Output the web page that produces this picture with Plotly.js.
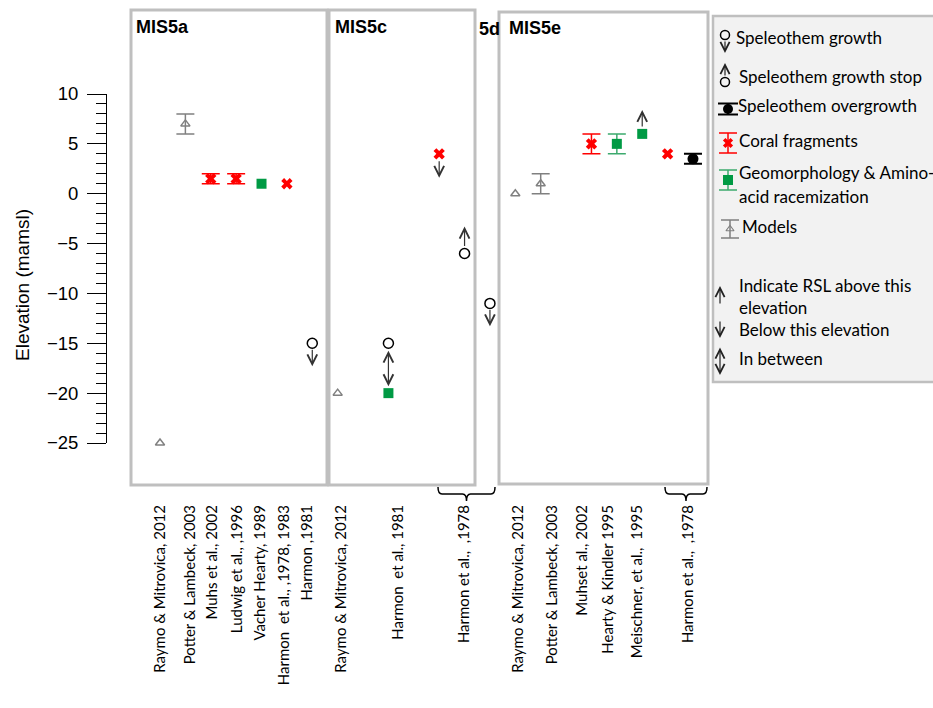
<!DOCTYPE html>
<html>
<head>
<meta charset="utf-8">
<script src="https://cdn.plot.ly/plotly-3.0.1.min.js"></script>
<style>html,body{margin:0;padding:0;background:#fff;}#chart{width:933px;height:708px;}</style>
</head>
<body>
<div id="chart"></div>
<script>
// ---------- DATA ----------
// Category (reference) labels along the bottom
const tickLabels = [
  "Raymo & Mitrovica, 2012", "Potter & Lambeck, 2003", "Muhs et al., 2002",
  "Ludwig et al., ,1996", "Vacher Hearty, 1989", "Harmon  et al., ,1978, 1983",
  "Harmon ,1981", "Raymo & Mitrovica, 2012", "Harmon  et al., 1981",
  "Harmon et al.,  ,1978", "Raymo & Mitrovica, 2012", "Potter & Lambeck, 2003",
  "Muhset al., 2002", "Hearty & Kindler 1995", "Meischner, et al.,  1995",
  "Harmon et al.,  ,1978"
];
// category slot where each label sits
const labelSlot = [0, 1.2, 2.05, 3.05, 3.95, 4.9, 5.8, 7.15, 9.4, 12.0, 14.1, 15.45, 16.65, 17.65, 18.8, 20.8];

// Models
const modelsSlot = [0, 1, 7, 14, 15];
const modelsElev = [-25, 7, -20, 0, 1];
const modelsErr  = [0, 1, 0, 0, 1];
// Coral fragments
const coralSlot = [2, 3, 5, 11, 17, 20];
const coralElev = [1.5, 1.5, 1, 4, 5, 4];
const coralErr  = [0.5, 0.5, 0, 0, 1, 0];
// Geomorphology & amino-acid racemization
const geoSlot = [4, 9, 18, 19];
const geoElev = [1, -20, 5, 6];
const geoErr  = [0, 0, 1, 0];
// Speleothem growth
const growthSlot = [6, 9, 13];
const growthElev = [-15, -15, -11];
// Speleothem growth stop
const stopSlot = [12];
const stopElev = [-6];
// Speleothem overgrowth
const overSlot = [21];
const overElev = [3.5];
const overErr  = [0.5];
// RSL indication arrows: slot, tail elevation, head elevation, double-headed
const arrowSlot = [6, 9, 11, 12, 13, 19];
const arrowFrom = [-15.5, -15.6, 3.4, -5.4, -11.5, 6.6];
const arrowTo   = [-17.3, -19.3, 1.6, -3.3, -13.3, 8.4];
const arrowBoth = [false, true, false, false, false, false];

// Panel titles
const panelTitles = ["MIS5a", "MIS5c", "5d", "MIS5e"];

// ---------- LAYOUT HELPERS ----------
const W = 933, H = 708;
const X = px => px / W;
const Y = py => 1 - py / H;
const calib = "Lato, 'Open Sans', sans-serif";
const arial = "'Liberation Sans', Arial, sans-serif";
const errArr = a => a.map(v => v > 0 ? v : NaN);

const traces = [
  {x: modelsSlot, y: modelsElev, type: 'scatter', mode: 'markers', cliponaxis: false,
   marker: {symbol: 'triangle-up-open', size: 8, color: '#808080', line: {width: 1.5, color: '#808080'}},
   error_y: {type: 'data', array: errArr(modelsErr), visible: true, color: '#808080', thickness: 1.5, width: 9}},
  {x: coralSlot, y: coralElev, type: 'scatter', mode: 'markers', cliponaxis: false,
   marker: {symbol: 'x', size: 10, color: '#ff0000', line: {width: 0}},
   error_y: {type: 'data', array: errArr(coralErr), visible: true, color: '#ff0000', thickness: 1.5, width: 9}},
  {x: geoSlot, y: geoElev, type: 'scatter', mode: 'markers', cliponaxis: false,
   marker: {symbol: 'square', size: 10, color: '#009a44', line: {width: 0}},
   error_y: {type: 'data', array: errArr(geoErr), visible: true, color: '#3daa6e', thickness: 1.5, width: 9}},
  {x: growthSlot, y: growthElev, type: 'scatter', mode: 'markers', cliponaxis: false,
   marker: {symbol: 'circle-open', size: 10, color: '#000', line: {width: 1.5, color: '#000'}}},
  {x: stopSlot, y: stopElev, type: 'scatter', mode: 'markers', cliponaxis: false,
   marker: {symbol: 'circle-open', size: 10, color: '#000', line: {width: 1.5, color: '#000'}}},
  {x: overSlot, y: overElev, type: 'scatter', mode: 'markers', cliponaxis: false,
   marker: {symbol: 'circle', size: 11, color: '#000'},
   error_y: {type: 'data', array: errArr(overErr), visible: true, color: '#000', thickness: 2, width: 9}}
];

// ---------- LEGEND (drawn in a pixel-unit overlay subplot) ----------
const leg = {xaxis: 'x2', yaxis: 'y2', type: 'scatter', mode: 'markers', cliponaxis: false, hoverinfo: 'skip'};
traces.push(
  Object.assign({}, leg, {x: [725, 725], y: [35, 82], marker: {symbol: 'circle-open', size: 9, color: '#000', line: {width: 1.5, color: '#000'}}}),
  Object.assign({}, leg, {x: [728], y: [109], marker: {symbol: 'circle', size: 10, color: '#000'},
    error_y: {type: 'data', array: [5.5], visible: true, color: '#000', thickness: 2, width: 10}}),
  Object.assign({}, leg, {x: [728], y: [143], marker: {symbol: 'x', size: 9, color: '#ff0000', line: {width: 0}},
    error_y: {type: 'data', array: [10], visible: true, color: '#ff0000', thickness: 1.5, width: 9}}),
  Object.assign({}, leg, {x: [728], y: [180], marker: {symbol: 'square', size: 10, color: '#009a44', line: {width: 0}},
    error_y: {type: 'data', array: [10], visible: true, color: '#3daa6e', thickness: 1.5, width: 9}}),
  Object.assign({}, leg, {x: [730], y: [229], marker: {symbol: 'triangle-up-open', size: 7, color: '#808080', line: {width: 1.2, color: '#808080'}},
    error_y: {type: 'data', array: [9], visible: true, color: '#808080', thickness: 1.5, width: 9}})
);

const annotations = [];
// arrows in data space
for (let i = 0; i < arrowSlot.length; i++) {
  annotations.push({
    xref: 'x', yref: 'y', axref: 'x', ayref: 'y',
    x: arrowSlot[i], y: arrowTo[i], ax: arrowSlot[i], ay: arrowFrom[i],
    text: '', showarrow: true, arrowhead: 5, arrowsize: 1.6, arrowwidth: 1.2,
    arrowside: arrowBoth[i] ? 'end+start' : 'end', startarrowhead: 5, startarrowsize: 1.6,
    arrowcolor: '#333', standoff: 0, startstandoff: 0
  });
}
// panel titles
const titleX = [134, 333, 477, 507];
const titleY = [27, 27, 29, 28];
panelTitles.forEach((t, i) => annotations.push({
  xref: 'paper', yref: 'paper', x: X(titleX[i]), y: Y(titleY[i]), xanchor: 'left', yanchor: 'middle',
  text: '<b>' + t + '</b>', showarrow: false, font: {family: arial, size: 18, color: '#000'}
}));
// y title
annotations.push({xref: 'paper', yref: 'paper', x: X(22), y: Y(285), xanchor: 'center', yanchor: 'middle',
  text: 'Elevation (mamsl)', textangle: -90, showarrow: false, font: {family: arial, size: 19, color: '#000'}});

// legend texts
const legTexts = [
  ["Speleothem growth", 734, 38], ["Speleothem growth stop", 737, 77], ["Speleothem overgrowth", 736, 106],
  ["Coral fragments", 737, 141], ["Geomorphology & Amino-", 737, 173], ["acid racemization", 737, 197],
  ["Models", 740, 227], ["Indicate RSL above this", 737, 286], ["elevation", 737, 308],
  ["Below this elevation", 737, 330], ["In between", 737, 359]
];
legTexts.forEach(t => annotations.push({xref: 'x2', yref: 'y2', x: t[1], y: t[2], xanchor: 'left', yanchor: 'middle',
  text: t[0], showarrow: false, font: {family: calib, size: 17, color: '#000'}}));
// legend arrows
const legArrows = [[725, 40, 53, false], [725, 77, 63, false], [720, 305, 286, false], [720, 320, 338, false], [720, 346, 375, true]];
legArrows.forEach(a => annotations.push({xref: 'x2', yref: 'y2', axref: 'x2', ayref: 'y2', x: a[0], y: a[2], ax: a[0], ay: a[1],
  text: '', showarrow: true, arrowhead: 5, arrowsize: 1.5, arrowwidth: 1.2, arrowside: a[3] ? 'end+start' : 'end',
  startarrowhead: 5, startarrowsize: 1.5, arrowcolor: '#222', standoff: 0, startstandoff: 0}));

// ---------- SHAPES ----------
const boxLine = {color: '#bfbfbf', width: 3};
const rect = (x0, y0, x1, y1, extra) => Object.assign({type: 'rect', xref: 'paper', yref: 'paper',
  x0: X(x0), x1: X(x1), y0: Y(y1), y1: Y(y0), line: boxLine}, extra || {});
const bracket = (xl, xr, yTop, yLine, yTip) => {
  const xm = (xl + xr) / 2;
  const p = (x, y) => X(x).toFixed(5) + ',' + Y(y).toFixed(5);
  return {type: 'path', xref: 'paper', yref: 'paper', line: {color: '#000', width: 1.5},
    path: 'M' + p(xl, yTop) + ' Q' + p(xl, yLine) + ' ' + p(xl + 4, yLine) + ' L' + p(xm - 4, yLine) +
      ' Q' + p(xm, yLine) + ' ' + p(xm, yTip) + ' Q' + p(xm, yLine) + ' ' + p(xm + 4, yLine) +
      ' L' + p(xr - 4, yLine) + ' Q' + p(xr, yLine) + ' ' + p(xr, yTop)};
};
const shapes = [
  rect(713, 16, 940, 382, {fillcolor: '#f2f2f2', line: {color: '#bfbfbf', width: 2.5}, layer: 'below'}),
  rect(131, 10, 327, 485),
  rect(329, 10, 475, 485),
  rect(499, 12, 708, 484),
  bracket(438, 495, 487, 494, 501),
  bracket(665, 707, 487, 494, 501)
];

const layout = {
  width: W, height: H, margin: {l: 0, r: 0, t: 0, b: 0},
  paper_bgcolor: '#ffffff', plot_bgcolor: 'rgba(0,0,0,0)', showlegend: false,
  xaxis: {domain: [X(107), X(713)], range: [-(160 - 107) / 25.38, (713 - 160) / 25.38],
    showline: false, showgrid: false, zeroline: false, ticks: '', tickmode: 'array',
    tickvals: labelSlot, ticktext: tickLabels, tickangle: -90, ticklabelstandoff: 58,
    tickfont: {family: calib, size: 15, color: '#000'}},
  yaxis: {domain: [Y(443), Y(94)], range: [-25, 10], showline: true, linecolor: '#000', linewidth: 1,
    showgrid: false, zeroline: false, ticks: 'outside', ticklen: 19, tickwidth: 1, tickcolor: '#000',
    tick0: 0, dtick: 5, ticklabelstandoff: 5,
    minor: {ticks: 'outside', ticklen: 10, dtick: 1, tick0: 0, tickwidth: 1, tickcolor: '#000'},
    tickfont: {family: arial, size: 18.5, color: '#000'}},
  xaxis2: {domain: [X(713), 1], range: [713, 933], visible: false, fixedrange: true},
  yaxis2: {domain: [Y(382), Y(15)], range: [382, 15], visible: false, fixedrange: true},
  shapes: shapes, annotations: annotations
};

Plotly.newPlot('chart', traces, layout, {displayModeBar: false, staticPlot: true});
</script>
</body>
</html>
